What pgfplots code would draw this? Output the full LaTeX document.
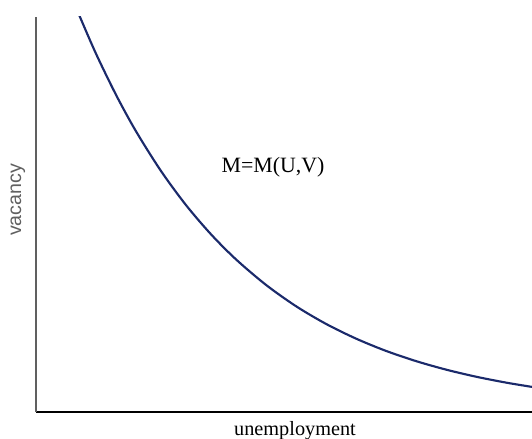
\documentclass[border=0pt]{standalone}
\usepackage{pgfplots}
\pgfplotsset{compat=1.18}
\usepackage{fontspec}
\setmainfont{Liberation Serif}
\newfontfamily\arialfont{Liberation Sans}
\definecolor{curvenavy}{HTML}{1B2A6B}
\definecolor{ylinegray}{HTML}{606060}

\begin{document}
\begin{tikzpicture}
\begin{axis}[
  scale only axis,
  width=372pt, height=296.25pt,
  xmin=0, xmax=496, ymin=0, ymax=395,
  axis x line=bottom, axis y line=left,
  x axis line style={-, black, line width=1.1pt},
  y axis line style={-, ylinegray, line width=1.1pt},
  xtick=\empty, ytick=\empty,
  clip mode=individual,
]
\addplot[curvenavy, line width=1.6pt, smooth] coordinates {
  (40,404.8) (44,395) (60,358.3) (80,317.2) (100,280.7) (125,241.0)
  (150,206.9) (175,177.7) (200,152.6) (230,127.1) (260,105.8)
  (290,88.1) (320,73.4) (350,61.1) (380,50.9) (410,42.4)
  (440,35.3) (470,29.4) (496,25.1)
};
\node[font=\fontsize{16.4}{19}\selectfont, anchor=center] at (axis cs:237,245) {M=M(U,V)};
\node[font=\fontsize{15.2}{18}\selectfont, anchor=center] at (axis cs:259,-18.5) {unemployment};
\node[font=\arialfont\fontsize{14.7}{18}\selectfont, text=ylinegray, rotate=90, anchor=center] at (axis cs:-18,212) {vacancy};
\coordinate (bl) at (axis cs:-36,-27);
\coordinate (tr) at (axis cs:496,412);
\end{axis}
\pgfresetboundingbox
\useasboundingbox (bl) rectangle (tr);
\end{tikzpicture}
\end{document}
